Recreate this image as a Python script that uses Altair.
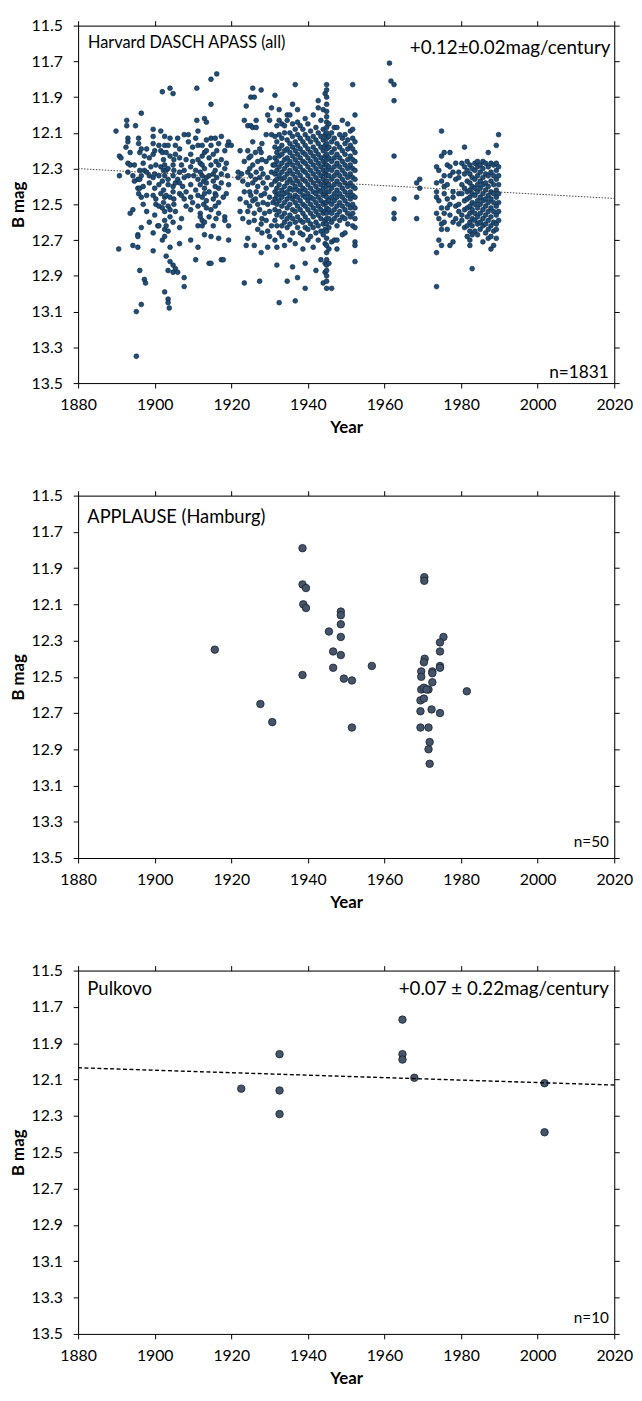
import altair as alt
import pandas as pd

FONT = "Lato"
YEAR_TICKS = [1880, 1900, 1920, 1940, 1960, 1980, 2000, 2020]
MAG_TICKS = [11.5, 11.7, 11.9, 12.1, 12.3, 12.5, 12.7, 12.9, 13.1, 13.3, 13.5]

# ---- Panel 1: Harvard DASCH APASS (all), read column by column (year, magnitudes)
DASCH_1889_1914 = [
    (1889.9, "12.09"), (1890.6, "12.75"), (1890.8, "12.23 12.34"), (1891.2, "12.24"),
    (1892.5, "12.18"), (1892.7, "12.03 12.06"), (1893.0, "12.13 12.15 12.27 12.32"),
    (1893.6, "12.21 12.28 12.55"), (1894.3, "12.53 12.73 12.34"), (1894.7, "12.28 12.37"),
    (1895.0, "12.06"), (1895.2, "13.10 13.35"), (1895.6, "12.36 12.41 12.67 12.68 12.74"),
    (1895.8, "12.13 12.16 12.44"), (1896.1, "12.21 12.31 12.36 12.41 12.87"),
    (1896.5, "11.99 12.19 12.34 12.46 12.63 13.06"), (1897.0, "12.27 12.40 12.50"),
    (1897.3, "12.23 12.31 12.92"),
    (1897.6, "12.94"), (1897.9, "12.19 12.32 12.45 12.54"), (1898.6, "12.24 12.34 12.38 12.60"),
    (1899.0, "12.29"), (1899.6, "12.08 12.12 12.16 12.22 12.35 12.45 12.66 12.76"),
    (1900.0, "12.20 12.33 12.41 12.56"),
    (1900.3, "12.28 12.47 12.50"), (1900.8, "12.62"), (1901.1, "12.17 12.34 12.39 12.51 12.62"),
    (1901.6, "12.09 12.20 12.29 12.44"), (1902.0, "11.87 12.21 12.37 12.52 12.70"),
    (1902.3, "12.25 12.31 12.42 12.49"),
    (1902.6, "12.12 12.17 12.28 12.34 12.46 12.54 12.59 12.64 12.68 12.99"),
    (1903.0, "12.21 12.31 12.45 12.62 12.79"),
    (1903.5, "12.17 12.30 12.36 12.39 12.51 12.65 12.87 13.03 13.05"), (1903.8, "13.08"),
    (1904.0, "11.85 12.13 12.23 12.46 12.53 12.57 12.74 12.82"),
    (1904.8, "11.88 12.28 12.34 12.40 12.43 12.60 12.84 12.88"),
    (1905.0, "12.25 12.31 12.47 12.50"),
    (1905.4, "12.17 12.22 12.38 12.54 12.86"), (1906.0, "12.13 12.36 12.88"),
    (1906.5, "12.19 12.24 12.32 12.38 12.44 12.63 12.72"), (1907.0, "12.28 12.45 12.58"),
    (1907.3, "12.40"),
    (1907.7, "12.11 12.31 12.35 12.47 12.91 12.96"), (1908.2, "12.25 12.43 12.51"),
    (1908.8, "12.11 12.15 12.34"), (1909.4, "12.22 12.29 12.39 12.46 12.53 12.70"),
    (1909.9, "12.18 12.26 12.49"),
    (1910.2, "12.34"), (1910.7, "12.13 12.31 12.42 12.81"), (1911.0, "11.85 12.03"),
    (1911.3, "12.09 12.17 12.25 12.36 12.45 12.51 12.62 12.74"),
    (1911.9, "12.27 12.32 12.39 12.55 12.57"),
    (1912.4, "12.17 12.23 12.28 12.34 12.46 12.59 12.62"), (1912.8, "12.37 12.50"),
    (1913.0, "12.02 12.21 12.30 12.41 12.44 12.60 12.67"),
    (1913.5, "12.04 12.14 12.38 12.20 12.35 12.48 12.52"),
]
DASCH_1914_1931 = [
    (1914.2, "12.83 12.24 12.34 12.43 12.57"),
    (1914.7, "11.80 11.94 12.13 12.17 12.28 12.53 12.68 12.83"),
    (1915.3, "12.22 12.33 12.37 12.47 12.62"), (1915.8, "12.13 12.31 12.40 12.44 12.51"),
    (1916.0, "12.26 12.45 12.58"),
    (1916.2, "11.77 12.20 12.35"), (1916.7, "12.16 12.28 12.41 12.49 12.55 12.69"),
    (1917.4, "12.12 12.25 12.33 12.38 12.81"), (1917.9, "12.46 12.81"),
    (1918.3, "12.20 12.30 12.57 12.59"), (1918.7, "12.27 12.44"), (1919.0, "12.17 12.34"),
    (1919.3, "12.15 12.39 12.62 12.70"), (1920.0, "12.17"), (1921.8, "12.32 12.35"),
    (1922.3, "12.20 12.47 12.54"), (1922.7, "12.33"), (1923.0, "12.37 12.58"),
    (1923.4, "12.03 12.26 12.43 12.94"), (1923.9, "11.95 12.49 12.73"),
    (1924.3, "12.06 12.20 12.32 12.39 12.54 12.69"), (1924.6, "12.24 12.60"),
    (1924.8, "12.30 12.43 12.51"),
    (1925.1, "11.90 12.06 12.23 12.34 12.45"), (1925.6, "11.85 12.07 12.15 12.28 12.38 12.48"),
    (1926.0, "11.90 12.55 12.59 12.73"), (1926.3, "12.21 12.36 12.47"),
    (1926.5, "12.03 12.07 12.32 12.43"),
    (1926.9, "12.26 12.40 12.50 12.64"), (1927.4, "12.19 12.35 12.53 12.93"),
    (1927.8, "11.86 12.21 12.30 12.45 12.61 12.77"), (1928.0, "12.16 12.25 12.58 12.66"),
    (1928.3, "12.33 12.38 12.49"),
    (1928.7, "12.44 12.55"), (1929.1, "12.11 12.26 12.41 12.59"),
    (1929.5, "12.00 12.35 12.50 12.65 12.74"), (1930.0, "12.03 12.24 12.46 12.54 12.68"),
    (1930.5, "11.96 12.11 12.32 12.39 12.62"), (1930.9, "12.28 12.49"),
]
DASCH_1931_1953 = [
    (1931.4, "11.89 12.12 12.18 12.24 12.28 12.33 12.37 12.43 12.47 12.53 12.59 12.70"),
    (1931.9, "12.06 12.15 12.21 12.26 12.31 12.36 12.41 12.45 12.50 12.56 12.62 12.74 12.84"),
    (1932.5, "11.97 12.03 12.11 12.19 12.23 12.29 12.34 12.39 12.44 12.48 12.54 12.66 13.05"),
    (1933.2, "12.05 12.13 12.17 12.22 12.27 12.32 12.36 12.42 12.46 12.51 12.57 12.62 12.68"),
    (1933.9, "12.06 12.10 12.20 12.25 12.30 12.35 12.40 12.44 12.49 12.55 12.60 12.73"),
    (1934.6, "12.00 12.03 12.14 12.19 12.24 12.28 12.33 12.38 12.43 12.47 12.52 12.58 12.63 12.93"),
    (1935.3, "12.00 12.10 12.16 12.21 12.26 12.31 12.36 12.41 12.45 12.50 12.56 12.61 12.70"),
    (1936.0, "11.94 12.05 12.12 12.18 12.23 12.28 12.33 12.38 12.42 12.47 12.53 12.58 12.66 12.85"),
    (1936.7, "11.83 12.08 12.15 12.20 12.25 12.30 12.35 12.40 12.45 12.49 12.54 12.60 12.72 13.04"),
    (1937.3, "11.97 12.04 12.11 12.17 12.22 12.27 12.32 12.37 12.42 12.46 12.51 12.57 12.63 12.91"),
    (1938.0, "12.06 12.13 12.19 12.24 12.29 12.34 12.39 12.43 12.48 12.53 12.59 12.66"),
    (1938.7, "12.08 12.15 12.21 12.26 12.31 12.36 12.41 12.45 12.50 12.55 12.60 12.67 12.75"),
    (1939.3, "12.02 12.11 12.17 12.22 12.27 12.32 12.37 12.42 12.46 12.51 12.57 12.63 12.83 12.97"),
    (1940.0, "12.05 12.13 12.19 12.24 12.29 12.34 12.39 12.44 12.48 12.53 12.59 12.64 12.70"),
    (1940.7, "12.09 12.15 12.21 12.26 12.31 12.36 12.41 12.46 12.50 12.55 12.61 12.68"),
    (1941.4, "12.00 12.12 12.18 12.23 12.28 12.33 12.38 12.43 12.47 12.52 12.57 12.63 12.74"),
    (1942.1, "12.07 12.14 12.20 12.25 12.30 12.35 12.40 12.44 12.49 12.54 12.60 12.66 12.87"),
    (1942.7, "11.92 11.96 12.10 12.16 12.22 12.27 12.32 12.37 12.42 12.46 12.51 12.56 12.62 12.70"),
    (1943.4, "12.03 12.12 12.18 12.24 12.29 12.34 12.39 12.43 12.48 12.53 12.58 12.65 12.81"),
    (1944.0, "11.97 12.08 12.14 12.20 12.26 12.31 12.36 12.41 12.45 12.50 12.55 12.61 12.67 12.94"),
    (1944.5, "11.88 12.11 12.17 12.23 12.28 12.33 12.38 12.44 12.49 12.54 12.59 12.64 12.72 12.83 12.88"),
    (1944.9, "11.83 11.86 11.90 11.94 11.98 12.01 12.04 12.07 12.10 12.13 12.16 12.19 12.22 12.25 "
             "12.28 12.31 12.34 12.37 12.40 12.43 12.46 12.49 12.52 12.55 12.58 12.61 12.65 12.69 "
             "12.73 12.77 12.81 12.84 12.87 12.90 12.93 12.97"),
    (1945.5, "12.05 12.12 12.18 12.24 12.29 12.34 12.39 12.43 12.48 12.53 12.58 12.63 12.75 12.83"),
    (1946.2, "12.10 12.15 12.21 12.26 12.31 12.36 12.41 12.46 12.50 12.55 12.60 12.71 12.97"),
    (1946.9, "12.07 12.13 12.19 12.24 12.29 12.34 12.39 12.44 12.48 12.53 12.58 12.70"),
    (1947.6, "12.07 12.16 12.22 12.27 12.32 12.37 12.42 12.46 12.51 12.56 12.62 12.70 12.75"),
    (1948.3, "12.11 12.18 12.24 12.29 12.34 12.39 12.44 12.49 12.54 12.59"),
    (1949.0, "12.03 12.13 12.20 12.26 12.31 12.36 12.41 12.46 12.51 12.57 12.67"),
    (1949.7, "12.11 12.16 12.22 12.28 12.33 12.38 12.43 12.48 12.53 12.58 12.66"),
    (1950.4, "12.05 12.14 12.19 12.25 12.30 12.35 12.40 12.45 12.50 12.55 12.61"),
    (1951.1, "12.09 12.17 12.23 12.28 12.33 12.38 12.43 12.47 12.52 12.57"),
    (1951.7, "11.83 12.08 12.13 12.19 12.25 12.30 12.35 12.40 12.45 12.50 12.55 12.62"),
    (1952.3, "12.00 12.15 12.21 12.26 12.31 12.36 12.41 12.46 12.52 12.58 12.63 12.71 12.73 12.82"),
]
DASCH_1960_1970 = [
    (1961.3, "11.71"), (1961.7, "11.81"), (1962.5, "11.83 11.92 12.23 12.47 12.55 12.58"),
    (1968.4, "12.38 12.46 12.58"), (1969.2, "12.36 12.41"),
]
DASCH_1972_1990 = [
    (1973.6, "12.29 12.38 12.43 12.46 12.55 12.77 12.96"), (1974.2, "12.31 12.48 12.58 12.70"),
    (1974.9, "12.09 12.23 12.37 12.52 12.61 12.64 12.73"), (1975.6, "12.21 12.34 12.40 12.44 12.55 12.60"),
    (1976.4, "12.28 12.39 12.47 12.52 12.64"), (1977.1, "12.21 12.29 12.34 12.50 12.56 12.73"),
    (1977.9, "12.32 12.43 12.46 12.60 12.71"), (1978.6, "12.27 12.36 12.51 12.58"),
    (1979.4, "12.32 12.35 12.44 12.50 12.54 12.61"), (1980.2, "12.27 12.39 12.44 12.56 12.59"),
    (1980.9, "12.18 12.29 12.33 12.41 12.48 12.53 12.63"),
    (1981.6, "12.26 12.31 12.37 12.43 12.47 12.52 12.57 12.62 12.68"),
    (1982.3, "12.28 12.33 12.38 12.42 12.46 12.51 12.55 12.60 12.65 12.70 12.73"),
    (1982.9, "12.30 12.35 12.40 12.44 12.49 12.53 12.58 12.62 12.67 12.86"),
    (1983.6, "12.27 12.31 12.36 12.41 12.45 12.50 12.55 12.59 12.65"),
    (1984.3, "12.26 12.29 12.34 12.39 12.43 12.48 12.52 12.57 12.61 12.67"),
    (1985.0, "12.28 12.32 12.37 12.41 12.46 12.50 12.55 12.60 12.64"),
    (1985.7, "12.26 12.30 12.35 12.39 12.44 12.48 12.53 12.58 12.62 12.71"),
    (1986.4, "12.27 12.33 12.38 12.42 12.47 12.51 12.56 12.61 12.66"),
    (1987.1, "12.21 12.29 12.34 12.40 12.45 12.49 12.54 12.59 12.64 12.69"),
    (1987.8, "12.27 12.32 12.37 12.43 12.47 12.52 12.57 12.62 12.68 12.75"),
    (1988.5, "12.28 12.34 12.39 12.44 12.49 12.54 12.60 12.65 12.73"),
    (1989.2, "12.17 12.27 12.31 12.36 12.42 12.46 12.51 12.56 12.61 12.64 12.69"),
    (1989.8, "12.11 12.29 12.34 12.39 12.44 12.49 12.54 12.59"),
]
DASCH_TREND_YEARS = [1880, 2020]
DASCH_TREND_MAGS = [12.30, 12.467]

# ---- Panel 2: APPLAUSE (Hamburg)
APPLAUSE_YEARS = [1938.6, 1938.6, 1939.5, 1938.8, 1939.5, 1948.6, 1948.6, 1948.6, 1945.5, 1948.6,
                  1970.4, 1970.4, 1975.4, 1974.5, 1915.7, 1946.6, 1948.6, 1946.6, 1956.7, 1938.6,
                  1949.4, 1951.5, 1927.6, 1930.7, 1951.5, 1974.5, 1970.5, 1970.3, 1974.5, 1974.5,
                  1969.6, 1972.5, 1972.5, 1969.6, 1972.5, 1969.6, 1970.3, 1971.5, 1981.5, 1969.4,
                  1970.3, 1972.3, 1969.4, 1974.5, 1969.4, 1971.5, 1971.8, 1971.5, 1971.8, 1971.0]
APPLAUSE_MAGS = [11.79, 11.99, 12.01, 12.10, 12.12, 12.14, 12.16, 12.21, 12.25, 12.28,
                 11.95, 11.97, 12.28, 12.31, 12.35, 12.36, 12.38, 12.45, 12.44, 12.49,
                 12.51, 12.52, 12.65, 12.75, 12.78, 12.36, 12.40, 12.42, 12.44, 12.45,
                 12.47, 12.47, 12.48, 12.50, 12.53, 12.57, 12.56, 12.57, 12.58, 12.63,
                 12.62, 12.68, 12.69, 12.70, 12.78, 12.78, 12.86, 12.90, 12.98, 12.57]

# ---- Panel 3: Pulkovo
PULKOVO_YEARS = [1964.7, 1932.6, 1964.7, 1964.7, 1967.8, 2001.8, 1922.6, 1932.6, 1932.6, 2001.8]
PULKOVO_MAGS = [11.77, 11.96, 11.96, 11.99, 12.09, 12.12, 12.15, 12.16, 12.29, 12.39]
PULKOVO_TREND_YEARS = [1880, 2020]
PULKOVO_TREND_MAGS = [12.035, 12.13]

# ---- annotation texts: (text, year, mag, font size)
P1_LEFT = [("Harvard DASCH APASS (all)", 1882.6, 11.60, 16.5)]
P1_RIGHT = [("+0.12±0.02mag/century", 2019.0, 11.625, 19), ("n=1831", 2018.6, 13.445, 17.5)]
P2_LEFT = [("APPLAUSE (Hamburg)", 1882.4, 11.62, 18.5)]
P2_RIGHT = [("n=50", 2018.6, 13.41, 15.5)]
P3_LEFT = [("Pulkovo", 1882.4, 11.60, 18.8)]
P3_RIGHT = [("+0.07 ± 0.22mag/century", 2018.6, 11.60, 19), ("n=10", 2018.6, 13.41, 15.5)]


def expand(*groups):
    rows = []
    for g in groups:
        for yr, s in g:
            for m in s.split():
                rows.append({"year": yr, "mag": float(m)})
    return pd.DataFrame(rows)


def text_df(items):
    return pd.DataFrame([{"label": t, "year": x, "mag": y, "fs": f} for t, x, y, f in items])


W = 543
XS = alt.Scale(domain=[1880, 2020], nice=False, zero=False)
YS = alt.Scale(domain=[11.5, 13.5], reverse=True, nice=False, zero=False)

common_axis = dict(grid=False, domainColor="black", tickColor="black", tickSize=5,
                   labelFont=FONT, labelColor="black", labelFontSize=16,
                   titleFont=FONT, titleFontSize=17, titleFontWeight="bold", titleColor="black")

AX_BOTTOM = alt.Axis(orient="bottom", values=YEAR_TICKS, format="d", title="Year",
                     labelFlush=False, labelOverlap=False, labelPadding=9,
                     titlePadding=7, **common_axis)
AX_LEFT = alt.Axis(orient="left", values=MAG_TICKS, format=".1f", title="B mag",
                   labelOverlap=False, labelPadding=11, titlePadding=4, **common_axis)
AX_TOP = alt.Axis(orient="top", values=YEAR_TICKS, labels=False, title=None, **common_axis)
AX_RIGHT = alt.Axis(orient="right", values=MAG_TICKS, labels=False, title=None, **common_axis)


def panel(df, fill, stroke, size, sw, left_txt, right_txt, height, trend=None):
    pts = alt.Chart(df).mark_circle(size=size, fill=fill, stroke=stroke, strokeWidth=sw,
                                    opacity=1).encode(
        x=alt.X("year:Q", scale=XS, axis=AX_BOTTOM),
        y=alt.Y("mag:Q", scale=YS, axis=AX_LEFT),
    )
    frame = alt.Chart(df).mark_circle(opacity=0, size=1).encode(
        x=alt.X("year:Q", scale=XS, axis=AX_TOP),
        y=alt.Y("mag:Q", scale=YS, axis=AX_RIGHT),
    )
    layers = [pts, frame]
    if trend is not None:
        tdf, dash, width, color = trend
        layers.append(alt.Chart(tdf).mark_line(strokeDash=dash, strokeWidth=width, color=color).encode(
            x=alt.X("year:Q", scale=XS, axis=None),
            y=alt.Y("mag:Q", scale=YS, axis=None),
        ))
    for items, align in ((left_txt, "left"), (right_txt, "right")):
        layers.append(alt.Chart(text_df(items)).mark_text(align=align, baseline="middle",
                                                          font=FONT, color="black").encode(
            x=alt.X("year:Q", scale=XS, axis=None),
            y=alt.Y("mag:Q", scale=YS, axis=None),
            text="label:N",
            size=alt.Size("fs:Q", scale=None, legend=None),
        ))
    return alt.layer(*layers).resolve_axis(x="independent", y="independent").properties(
        width=W, height=height)


dasch = expand(DASCH_1889_1914, DASCH_1914_1931, DASCH_1931_1953, DASCH_1960_1970, DASCH_1972_1990)
dasch_trend = pd.DataFrame({"year": DASCH_TREND_YEARS, "mag": DASCH_TREND_MAGS})
applause = pd.DataFrame({"year": APPLAUSE_YEARS, "mag": APPLAUSE_MAGS})
pulkovo = pd.DataFrame({"year": PULKOVO_YEARS, "mag": PULKOVO_MAGS})
pulkovo_trend = pd.DataFrame({"year": PULKOVO_TREND_YEARS, "mag": PULKOVO_TREND_MAGS})

p1 = panel(dasch, "#1F4E79", "#0B2238", 24, 0.6, P1_LEFT, P1_RIGHT, 362,
           trend=(dasch_trend, [1.5, 1.5], 0.9, "#333333"))
p2 = panel(applause, "#44546A", "#1A222C", 58, 0.8, P2_LEFT, P2_RIGHT, 367)
p3 = panel(pulkovo, "#44546A", "#1A222C", 58, 0.8, P3_LEFT, P3_RIGHT, 368,
           trend=(pulkovo_trend, [4, 2.5], 1.4, "black"))

chart = alt.vconcat(p1, p2, p3, spacing=114, bounds="flush").properties(
    padding={"left": 0, "top": 0, "right": 0, "bottom": 0}
).configure_view(stroke="black", strokeWidth=1).configure(background="white")

chart.save("out.html", embed_options={"renderer": "svg", "actions": False})
